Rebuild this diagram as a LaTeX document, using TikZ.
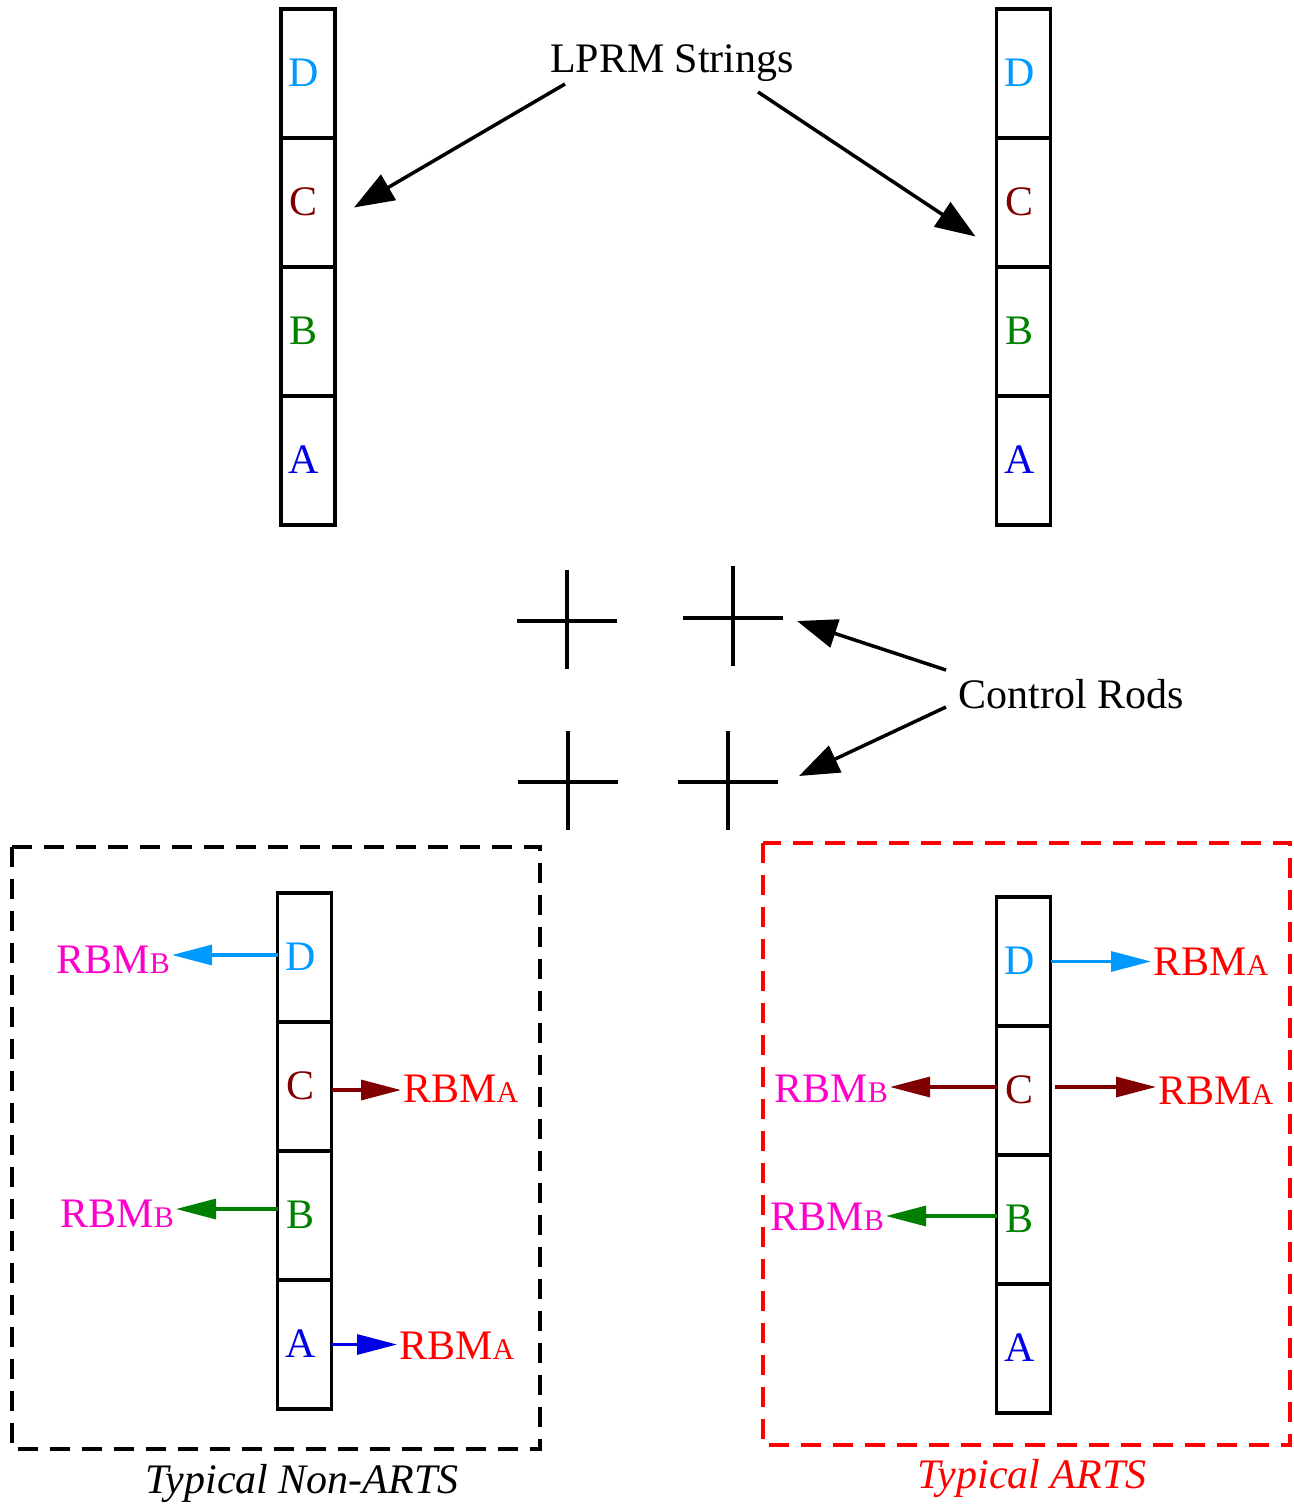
\documentclass[tikz,border=0pt]{standalone}
\usepackage{fontspec}
\setmainfont{Liberation Serif}
\usetikzlibrary{arrows.meta}

\definecolor{segD}{RGB}{0,153,255}
\definecolor{segC}{RGB}{128,0,0}
\definecolor{segB}{RGB}{0,128,0}
\definecolor{segA}{RGB}{0,0,230}
\definecolor{rbmBcol}{RGB}{255,0,204}
\definecolor{rbmAcol}{RGB}{255,0,0}

% rod block monitor label with a small trailing letter
\newcommand\rbmtext[1]{RBM{\fontsize{30}{30}\selectfont #1}}

% cell letter, set a little left of and above the cell centre
\newcommand\seg[1]{\raisebox{2pt}{#1}\kern8pt}

% one LPRM string: four stacked cells D, C, B, A
% #1 name prefix, #2 centre x, #3 top y
\newcommand\fuelstring[3]{%
  \node[cell,text=segD] (#1D) at (#2,#3+64.5)  {\seg{D}};
  \node[cell,text=segC] (#1C) at (#2,#3+193.5) {\seg{C}};
  \node[cell,text=segB] (#1B) at (#2,#3+322.5) {\seg{B}};
  \node[cell,text=segA] (#1A) at (#2,#3+451.5) {\seg{A}};
}

% control rod cross
\newcommand\rodcross[5]{% centre x, centre y, half width, top, bottom
  \draw[rod] (#1-#3,#2) -- (#1+#3,#2);
  \draw[rod] (#1,#4) -- (#1,#5);
}

\begin{document}
\begin{tikzpicture}[x=1pt,y=-1pt,
  every node/.style={font=\fontsize{42}{50}\selectfont},
  cell/.style={draw=black,line width=3.5pt,minimum width=54pt,minimum height=129pt,
               inner sep=0pt,outer sep=0pt},
  bigtip/.style={-{Triangle[length=40pt,width=29pt]},line width=3.5pt},
  smalltip/.style={-{Triangle[length=40pt,width=20pt]},line width=3.2pt},
  rbmB/.style={text=rbmBcol,inner sep=2pt,anchor=east},
  rbmA/.style={text=rbmAcol,inner sep=2pt,anchor=west},
  rod/.style={line width=3.5pt},
  framebox/.style={dash pattern=on 20pt off 12pt,line width=3.5pt}]
\useasboundingbox (0,0) rectangle (1293,1504);

% ---- LPRM strings in the core ----
\fuelstring{tl}{308}{9}
\fuelstring{tr}{1023.5}{9}

\node[anchor=base] (lprm) at (672,72) {LPRM Strings};
\coordinate (lprmL) at (565,84);
\coordinate (lprmR) at (758,92);
\coordinate (tlTip) at ([xshift=19pt,yshift=-5pt]tlC.east);
\coordinate (trTip) at ([xshift=-21pt,yshift=-34pt]trC.west);
\draw[bigtip] (lprmL) -- (tlTip);
\draw[bigtip] (lprmR) -- (trTip);

% ---- control rods ----
\rodcross{567}{621}{50}{570}{669}
\rodcross{733}{618}{50}{566}{666}
\rodcross{568}{782}{50}{731}{830}
\rodcross{728}{782}{50}{731}{830}

\node[anchor=base] (rods) at (1071,708) {Control Rods};
\coordinate (rodsU) at (946,670);
\coordinate (rodsL) at (946,707);
\coordinate (rodTipU) at (797,621);
\coordinate (rodTipL) at (799,776);
\draw[bigtip] (rodsU) -- (rodTipU);
\draw[bigtip] (rodsL) -- (rodTipL);

% ---- typical non-ARTS assignment ----
\draw[framebox] (12,847) rectangle (540,1449);
\fuelstring{nl}{304.5}{893}

\node[rbmB] (nD) at (172,960)  {\rbmtext{B}};
\node[rbmA] (nC) at (401,1089) {\rbmtext{A}};
\node[rbmB] (nB) at (176,1214) {\rbmtext{B}};
\node[rbmA] (nA) at (397,1346) {\rbmtext{A}};

\draw[smalltip,segD] ([yshift=2.5pt]nlD.west) -- ([yshift=2.5pt]nlD.west -| nD.east);
\draw[smalltip,segC] ([yshift=-3.5pt]nlC.east) -- ([yshift=-3.5pt]nlC.east -| nC.west);
\draw[smalltip,segB] ([yshift=6.5pt]nlB.west) -- ([yshift=6.5pt]nlB.west -| nB.east);
\draw[smalltip,segA] (nlA.east) -- (nlA.east -| nA.west);

\node[anchor=base,font=\fontsize{42}{50}\selectfont\itshape] (capN) at (302,1493) {Typical Non-ARTS};

% ---- typical ARTS assignment ----
\draw[framebox,draw=rbmAcol] (763,843) rectangle (1290,1445);
\fuelstring{ar}{1023.5}{897}

\node[rbmA] (aD)  at (1151,962)  {\rbmtext{A}};
\node[rbmA] (aCr) at (1156,1091) {\rbmtext{A}};
\node[rbmB] (aCl) at (890,1089)  {\rbmtext{B}};
\node[rbmB] (aB)  at (886,1217)  {\rbmtext{B}};

\draw[smalltip,segD] (arD.east) -- (arD.east -| aD.west);
\draw[smalltip,segC] ([xshift=4pt,yshift=3.5pt]arC.east) -- ([yshift=3.5pt]arC.east -| aCr.west);
\draw[smalltip,segC] ([yshift=3.5pt]arC.west) -- ([yshift=3.5pt]arC.west -| aCl.east);
\draw[smalltip,segB] ([yshift=3.5pt]arB.west) -- ([yshift=3.5pt]arB.west -| aB.east);

\node[anchor=base,text=rbmAcol,font=\fontsize{42}{50}\selectfont\itshape] (capA) at (1032,1488) {Typical ARTS};

\end{tikzpicture}
\end{document}
